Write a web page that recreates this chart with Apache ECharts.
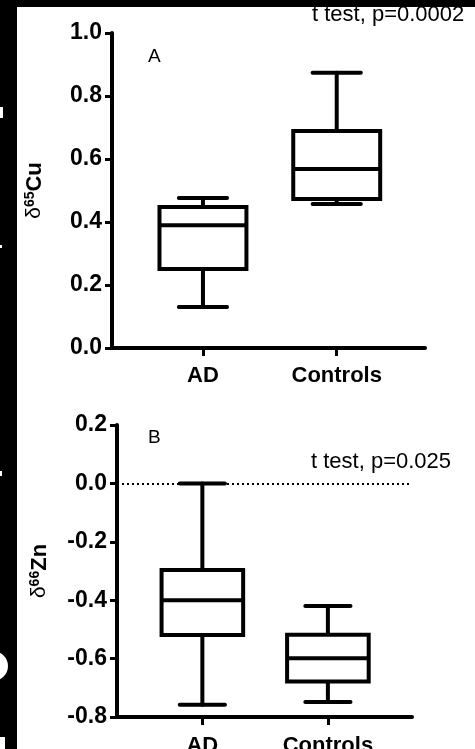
<!DOCTYPE html>
<html>
<head>
<meta charset="utf-8">
<script src="https://cdn.jsdelivr.net/npm/echarts@6/dist/echarts.min.js"></script>
<style>
html,body{margin:0;padding:0;background:#fff;}
#main{width:475px;height:749px;}
</style>
</head>
<body>
<div id="main"></div>
<script>
// groups on the x axis (placed at x = 1 and x = 2)
var categories = ['AD', 'Controls'];
var groupPos = [1, 2];
// [min, Q1, median, Q3, max]
var cuAD = [0.13, 0.251, 0.39, 0.448, 0.476];
var cuControls = [0.457, 0.473, 0.568, 0.689, 0.874];
var znAD = [-0.758, -0.519, -0.40, -0.297, 0.0];
var znControls = [-0.749, -0.678, -0.599, -0.518, -0.42];
var cuLabel = 't test, p=0.0002';
var znLabel = 't test, p=0.025';

var FONT = '"Liberation Sans", Arial, Helvetica, sans-serif';
var BOX_W = 0.65, CAP_W = 0.36;

function boxItem(pos, v) { return [pos].concat(v); }

function renderBox(params, api) {
    var x = api.value(0);
    var pMin = api.coord([x, api.value(1)]);
    var pQ1 = api.coord([x, api.value(2)]);
    var pMed = api.coord([x, api.value(3)]);
    var pQ3 = api.coord([x, api.value(4)]);
    var pMax = api.coord([x, api.value(5)]);
    var hb = api.size([BOX_W, 0])[0] / 2;
    var hc = api.size([CAP_W, 0])[0] / 2;
    var cx = pMin[0];
    var st = {stroke: '#000', lineWidth: 4, fill: null, lineCap: 'round'};
    return {
        type: 'group',
        children: [
            {type: 'line', shape: {x1: cx, y1: pMin[1], x2: cx, y2: pQ1[1]}, style: st},
            {type: 'line', shape: {x1: cx, y1: pQ3[1], x2: cx, y2: pMax[1]}, style: st},
            {type: 'line', shape: {x1: cx - hc, y1: pMin[1], x2: cx + hc, y2: pMin[1]}, style: st},
            {type: 'line', shape: {x1: cx - hc, y1: pMax[1], x2: cx + hc, y2: pMax[1]}, style: st},
            {type: 'rect', shape: {x: cx - hb, y: pQ3[1], width: hb * 2, height: pQ1[1] - pQ3[1]},
                style: {stroke: '#000', lineWidth: 4, fill: '#fff', lineJoin: 'miter'}},
            {type: 'line', shape: {x1: cx - hb, y1: pMed[1], x2: cx + hb, y2: pMed[1]}, style: {stroke: '#000', lineWidth: 4}}
        ]
    };
}

function xAxisFor(idx) {
    return {
        type: 'value', gridIndex: idx, min: 0.32, max: idx === 0 ? 2.66 : 2.67,
        splitLine: {show: false},
        axisLine: {onZero: false, lineStyle: {color: '#000', width: 4}},
        axisTick: {customValues: groupPos, length: 8, lineStyle: {color: '#000', width: 3}},
        axisLabel: {
            customValues: groupPos, margin: idx === 0 ? 17 : 18, color: '#000',
            fontFamily: FONT, fontWeight: 'bold', fontSize: 22,
            formatter: function (v) { return categories[groupPos.indexOf(Math.round(v))] || ''; }
        }
    };
}

function yAxisFor(idx, min, max, sup, elem) {
    return {
        type: 'value', gridIndex: idx, min: min, max: max, interval: 0.2,
        splitLine: {show: false},
        axisLine: {onZero: false, lineStyle: {color: '#000', width: 4}},
        axisTick: {length: 7, lineStyle: {color: '#000', width: 3}},
        axisLabel: {
            margin: 10, color: '#000', fontFamily: FONT, fontWeight: 'bold', fontSize: 23,
            formatter: function (v) { return v.toFixed(1); }
        },
        name: '{d|δ}{s|' + sup + '}{b|' + elem + '}',
        nameLocation: 'middle', nameRotate: 90, nameGap: 66,
        nameTextStyle: {
            rich: {
                d: {fontFamily: FONT, fontSize: 21, color: '#000'},
                s: {fontFamily: FONT, fontSize: 14, fontWeight: 'bold', color: '#000', padding: [0, 0, 9, 0]},
                b: {fontFamily: FONT, fontSize: 22, fontWeight: 'bold', color: '#000'}
            }
        }
    };
}

var chart = echarts.init(document.getElementById('main'), null, {renderer: 'canvas'});
var option = {
    backgroundColor: '#fff',
    animation: false,
    grid: [
        {left: 112, top: 33, width: 313, height: 315, containLabel: false, outerBoundsMode: 'none'},
        {left: 117, top: 425, width: 295, height: 292, containLabel: false, outerBoundsMode: 'none'}
    ],
    xAxis: [xAxisFor(0), xAxisFor(1)],
    yAxis: [yAxisFor(0, 0, 1, '65', 'Cu'), yAxisFor(1, -0.8, 0.2, '66', 'Zn')],
    series: [
        {
            type: 'custom', xAxisIndex: 0, yAxisIndex: 0, renderItem: renderBox,
            data: [boxItem(groupPos[0], cuAD), boxItem(groupPos[1], cuControls)]
        },
        {
            type: 'custom', xAxisIndex: 1, yAxisIndex: 1, renderItem: renderBox, z: 3,
            data: [boxItem(groupPos[0], znAD), boxItem(groupPos[1], znControls)],
            markLine: {
                silent: true, symbol: 'none', label: {show: false},
                lineStyle: {color: '#000', type: [2, 3], width: 2},
                data: [{yAxis: 0}]
            }
        }
    ],
    graphic: [
        {type: 'text', left: 148, top: 47, style: {text: 'A', font: '19px ' + FONT, fill: '#000'}},
        {type: 'text', left: 148, top: 428, style: {text: 'B', font: '19px ' + FONT, fill: '#000'}},
        {type: 'text', left: 312, top: 4, style: {text: cuLabel, font: '22px ' + FONT, fill: '#000'}},
        {type: 'text', left: 311, top: 451, style: {text: znLabel, font: '22px ' + FONT, fill: '#000'}},
        // black frame of the scanned figure
        {type: 'rect', z: 100, shape: {x: 0, y: 0, width: 475, height: 7}, style: {fill: '#000'}},
        {type: 'rect', z: 100, shape: {x: 0, y: 0, width: 17, height: 749}, style: {fill: '#000'}},
        // cut-off fragments at the left edge
        {type: 'rect', z: 101, shape: {x: 0, y: 107, width: 3, height: 11}, style: {fill: '#fff'}},
        {type: 'rect', z: 101, shape: {x: 0, y: 245, width: 2, height: 3}, style: {fill: '#fff'}},
        {type: 'rect', z: 101, shape: {x: 0, y: 471, width: 2, height: 5}, style: {fill: '#fff'}},
        {type: 'circle', z: 101, shape: {cx: -7, cy: 666, r: 15}, style: {fill: '#fff'}},
        {type: 'rect', z: 101, shape: {x: 0, y: 737, width: 5, height: 12}, style: {fill: '#fff'}}
    ]
};
chart.setOption(option);
</script>
</body>
</html>
